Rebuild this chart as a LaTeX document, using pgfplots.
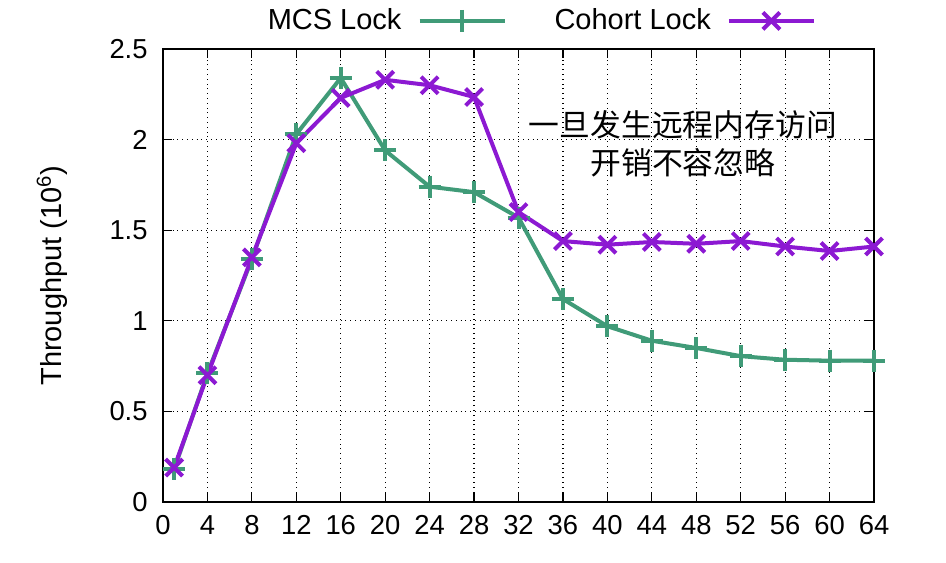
\documentclass[border=0pt]{standalone}
\usepackage{fontspec}
\setmainfont{Liberation Sans}
\newfontfamily\cjk{Noto Sans CJK SC}
\usepackage{pgfplots}
\pgfplotsset{compat=1.18}
\definecolor{mcsgreen}{RGB}{64,155,120}
\definecolor{cohortpurple}{RGB}{140,25,210}

\begin{document}
\fontsize{13.5pt}{16pt}\selectfont
\begin{tikzpicture}
\useasboundingbox (-81.5pt,-30pt) rectangle (391.5pt,251pt);
\begin{axis}[
    at={(0,0)}, anchor=south west,
    scale only axis,
    width=355.5pt, height=226.5pt,
    xmin=0, xmax=64, ymin=0, ymax=2.5,
    xtick={0,4,...,64},
    ytick={0,0.5,1,1.5,2,2.5},
    yticklabels={0,0.5,1,1.5,2,2.5},
    /pgf/number format/assume math mode=true,
    ticklabel style={font=\fontsize{13.7pt}{16pt}\selectfont},
    tick align=inside,
    major tick length=4.5pt,
    tick style={black, line width=0.6pt},
    axis line style={black, line width=1.2pt},
    grid=major,
    grid style={black, dotted, line width=0.6pt},
    ylabel={Throughput (10\textsuperscript{6})},
    ylabel style={at={(axis description cs:-0.156,0.5)}, anchor=center,
        font=\fontsize{14.5pt}{17pt}\selectfont},
    xticklabel style={yshift=-2pt},
    yticklabel style={xshift=-3pt},
    legend columns=2,
    legend style={
        at={(axis description cs:0.530,1.062)}, anchor=center,
        draw=none, fill=none,
        legend plot pos=right,
        /tikz/every odd column/.append style={column sep=6pt},
        /tikz/every even column/.append style={column sep=22pt},
        font=\fontsize{14.5pt}{17pt}\selectfont,
    },
    legend image code/.code={%
        \draw[mark repeat=2,mark phase=2,#1] plot coordinates {(0pt,0pt) (21.25pt,0pt) (42.5pt,0pt)};},
]
\addplot[mcsgreen, line width=2pt, mark=+, mark size=5.5pt, mark options={line width=2pt}] coordinates {
    (1,0.18)(4,0.71)(8,1.34)(12,2.03)(16,2.34)(20,1.94)(24,1.74)(28,1.71)
    (32,1.57)(36,1.12)(40,0.97)(44,0.89)(48,0.85)(52,0.805)(56,0.785)(60,0.78)(64,0.78)
};
\addlegendentry{MCS Lock}
\addplot[cohortpurple, line width=2pt, mark=x, mark size=6pt, mark options={line width=2pt}] coordinates {
    (1,0.19)(4,0.70)(8,1.35)(12,1.98)(16,2.23)(20,2.33)(24,2.30)(28,2.235)
    (32,1.60)(36,1.44)(40,1.42)(44,1.435)(48,1.425)(52,1.44)(56,1.41)(60,1.385)(64,1.41)
};
\addlegendentry{Cohort Lock}
\node[align=center, font={\cjk\fontsize{15.4pt}{19pt}\selectfont}] at (axis cs:46.8,1.976)
    {一旦发生远程内存访问\\开销不容忽略};
\end{axis}
\end{tikzpicture}
\end{document}
